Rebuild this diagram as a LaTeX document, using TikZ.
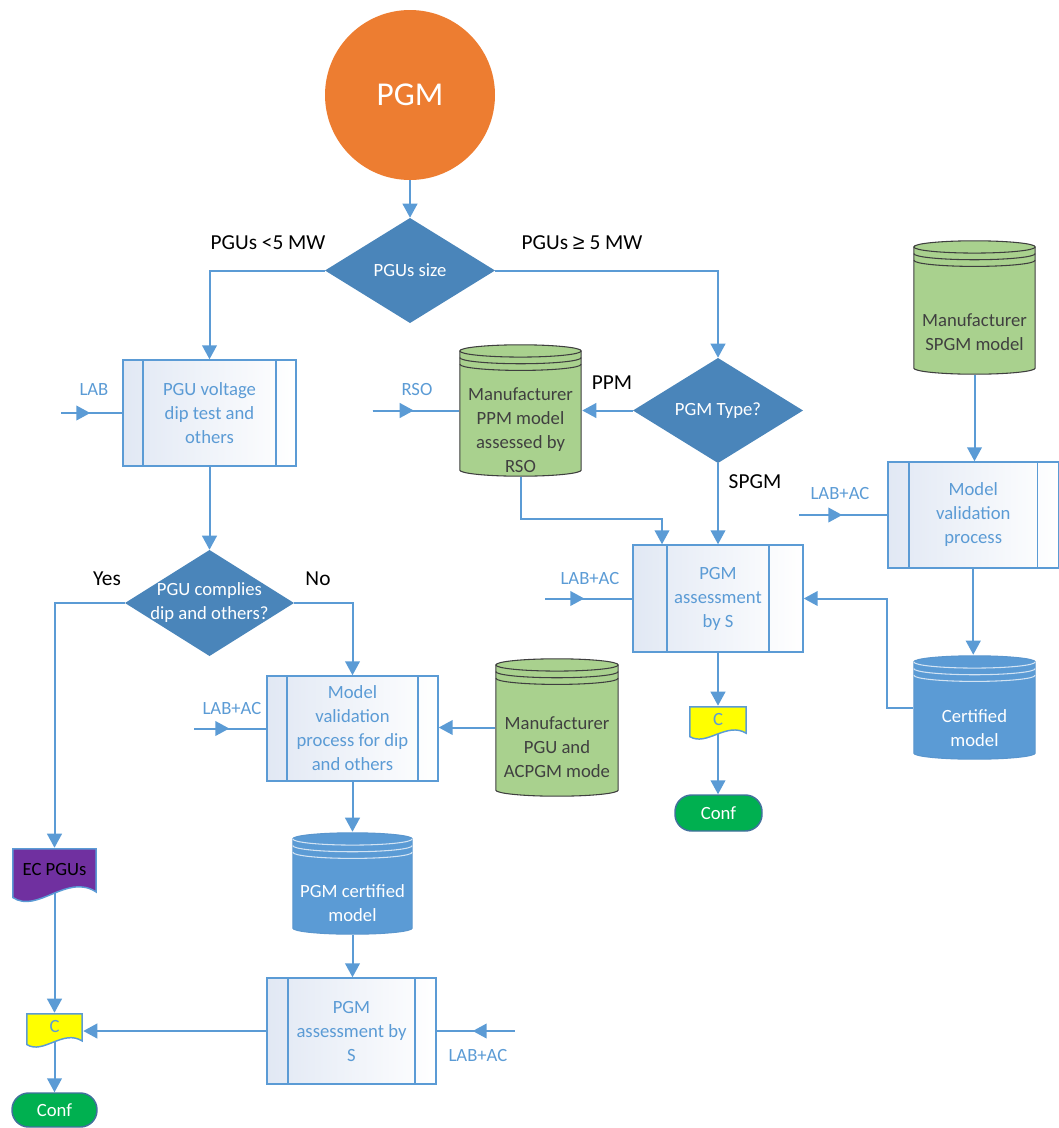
\documentclass[tikz,border=0pt]{standalone}
\usepackage{fontspec}
\setmainfont{Carlito}
\newfontfamily\symfont{Liberation Sans}
\usetikzlibrary{arrows.meta,calc,backgrounds}
\definecolor{lnblue}{HTML}{5B9BD5}
\definecolor{diablue}{HTML}{4A85BA}
\definecolor{pgmorange}{HTML}{ED7D31}
\definecolor{cylgreen}{HTML}{A9D18E}
\definecolor{cylline}{HTML}{3F3F3F}
\definecolor{cylblue}{HTML}{5B9BD5}
\definecolor{cylblueedge}{HTML}{5A96CE}
\definecolor{cylbluel}{HTML}{D2E3F3}
\definecolor{docpurple}{HTML}{7030A0}
\definecolor{docyellow}{HTML}{FFFF00}
\definecolor{confgreen}{HTML}{00B050}
\definecolor{confline}{HTML}{41719C}
\definecolor{boxshade}{HTML}{E1E8F4}
\definecolor{greytext}{HTML}{404040}

\newcommand\cylshape[3]{%
  \path[fill=#1,draw=#2,line width=0.8pt]
    let \p1=(path picture bounding box.south west),
        \p2=(path picture bounding box.north east),
        \n1={(\x2-\x1)/2-0.6pt} in
    (\x1+0.6pt,\y2-5.2pt) -- (\x1+0.6pt,\y1+5.2pt)
    arc[start angle=180,end angle=360,x radius=\n1,y radius=4.6pt]
    -- (\x2-0.6pt,\y2-5.2pt)
    arc[start angle=0,end angle=180,x radius=\n1,y radius=4.6pt] -- cycle;
  \path[draw=#3,line width=0.8pt]
    let \p1=(path picture bounding box.south west),
        \p2=(path picture bounding box.north east),
        \n1={(\x2-\x1)/2-0.6pt} in
    (\x1+0.6pt,\y2-5.2pt) arc[start angle=180,end angle=360,x radius=\n1,y radius=4.6pt]
    (\x1+0.6pt,\y2-10.2pt) arc[start angle=180,end angle=360,x radius=\n1,y radius=4.6pt]
    (\x1+0.6pt,\y2-15.2pt) arc[start angle=180,end angle=360,x radius=\n1,y radius=4.6pt];
}
\newcommand\docshape[2]{%
  \path[fill=#1,draw=#2,line width=1.1pt]
    let \p1=(path picture bounding box.south west),
        \p2=(path picture bounding box.north east),
        \n1={\x2-\x1}, \n2={\y2-\y1} in
    (\x1+0.6pt,\y2-0.6pt) -- (\x2-0.6pt,\y2-0.6pt) -- (\x2-0.6pt,\y1+0.2*\n2)
    .. controls (\x1+0.65*\n1,\y1+0.55*\n2) and (\x1+0.3*\n1,\y1-0.2*\n2) .. (\x1+0.6pt,\y1+0.1*\n2) -- cycle;
}

\tikzset{
  conn/.style={draw=lnblue, line width=1.5pt},
  arr/.style={-{Triangle[length=10.5pt,width=11pt]}},
  txt/.style={font=\fontsize{14pt}{18pt}\selectfont, align=center},
  bluelbl/.style={font=\fontsize{14pt}{17pt}\selectfont, text=lnblue, inner sep=0pt},
  blacklbl/.style={font=\fontsize{16pt}{19pt}\selectfont, text=black, inner sep=0pt},
  procbox/.style={rectangle, draw=lnblue, line width=1.1pt, left color=boxshade, right color=white,
    inner sep=0pt, txt, text=lnblue,
    path picture={\draw[lnblue, line width=1.1pt]
      ([xshift=#1]path picture bounding box.north west) -- ([xshift=#1]path picture bounding box.south west)
      ([xshift=-#1]path picture bounding box.north east) -- ([xshift=-#1]path picture bounding box.south east);}},
  dia/.style={rectangle, inner sep=0pt, txt, text=white,
    path picture={\fill[diablue] (path picture bounding box.north) -- (path picture bounding box.east)
      -- (path picture bounding box.south) -- (path picture bounding box.west) -- cycle;}},
  cyl/.style n args={3}{rectangle, inner sep=0pt, path picture={\cylshape{#1}{#2}{#3}}},
  cyltxt/.style={txt, inner sep=0pt},
  doc/.style n args={2}{rectangle, inner sep=0pt, font=\fontsize{14pt}{17pt}\selectfont,
    path picture={\docshape{#1}{#2}}},
  confbox/.style={rectangle, rounded corners=12.5pt, fill=confgreen, draw=confline, line width=1.1pt,
    text=white, inner sep=0pt, font=\fontsize{14pt}{17pt}\selectfont}
}

\begin{document}
\begin{tikzpicture}[x=0.75pt,y=-0.75pt]
\useasboundingbox (0,0) rectangle (1059,1128);

% ---- main nodes
\node[circle, fill=pgmorange, minimum size=127.5pt, inner sep=0pt, text=white,
      font=\fontsize{25pt}{30pt}\selectfont] (pgm) at (410,95) {PGM};
\node[dia, minimum width=127.5pt, minimum height=78.75pt] (size) at (410,270.5) {PGUs size};

\node[procbox=15pt, minimum width=129.75pt, minimum height=79.5pt] (box1) at (209.5,413) {PGU voltage\\dip test and\\others};
\node[dia, minimum width=126.75pt, minimum height=79.5pt] (dip) at (209.5,603) {PGU complies\\dip and others?};
\node[procbox=15pt, minimum width=128.25pt, minimum height=78.75pt] (box2) at (352.5,728.5) {Model\\validation\\process for dip\\and others};

\node[cyl={cylgreen}{cylline}{cylline}, minimum width=93pt, minimum height=104.25pt] (acpgm) at (557,727.5) {};
\node[cyltxt, text=greytext] (acpgmt) at ([yshift=-15pt]acpgm.center) {Manufacturer\\PGU and\\ACPGM mode};

\node[cyl={cylblue}{cylblueedge}{cylbluel}, minimum width=90.75pt, minimum height=77.25pt] (pgmcert) at (352.5,883.5) {};
\node[cyltxt, text=white] (pgmcertt) at ([yshift=-14.6pt]pgmcert.center) {PGM certified\\model};

\node[procbox=15.75pt, minimum width=126.75pt, minimum height=79.5pt] (box3) at (351.5,1031) {PGM\\assessment by\\S};

\node[doc={docpurple}{lnblue}, minimum width=63.75pt, minimum height=41.25pt, text=black,
      text height=9pt, text depth=9pt] (ecpgus) at (54.5,875.5) {EC PGUs};
\node[doc={docyellow}{lnblue}, minimum width=42.75pt, minimum height=26.25pt, text=lnblue,
      text height=9pt, text depth=6pt] (c1) at (54.5,1030.5) {C};
\node[confbox, minimum width=63.75pt, minimum height=25.5pt] (conf1) at (54.5,1110) {Conf};

\node[cyl={cylgreen}{cylline}{cylline}, minimum width=92.25pt, minimum height=99.75pt] (ppm) at (520.5,410.5) {};
\node[cyltxt, text=greytext] (ppmt) at ([yshift=-14.6pt]ppm.center) {Manufacturer\\PPM model\\assessed by\\RSO};

\node[dia, minimum width=127.5pt, minimum height=78.75pt] (type) at (718,410.5) {PGM Type?};
\node[procbox=25.5pt, minimum width=127.5pt, minimum height=80.25pt] (box4) at (718,598.5) {PGM\\assessment\\by S};
\node[doc={docyellow}{lnblue}, minimum width=43.5pt, minimum height=25.5pt, text=lnblue,
      text height=9pt, text depth=6pt] (c2) at (718,723) {C};
\node[confbox, minimum width=65.25pt, minimum height=27pt] (conf2) at (718.5,813) {Conf};

\node[cyl={cylgreen}{cylline}{cylline}, minimum width=92.25pt, minimum height=101.25pt] (spgm) at (974.5,307.5) {};
\node[cyltxt, text=greytext] (spgmt) at ([yshift=-18.4pt]spgm.center) {Manufacturer\\SPGM model};
\node[procbox=15.75pt, minimum width=127.9pt, minimum height=79.5pt] (box5) at (973.25,515) {Model\\validation\\process};
\node[cyl={cylblue}{cylblueedge}{cylbluel}, minimum width=92.25pt, minimum height=78.75pt] (cert) at (974.5,707.5) {};
\node[cyltxt, text=white] (certt) at ([yshift=-15.4pt]cert.center) {Certified\\model};

% ---- labels
\node[blacklbl] (lsmall) at (268,243) {PGUs <5 MW};
\node[blacklbl] (lbig) at (582,243) {PGUs {\symfont ≥} 5 MW};
\node[blacklbl] (lppm) at (612,383) {PPM};
\node[blacklbl] (lspgm) at (755,482) {SPGM};
\node[blacklbl] (lyes) at (107,579) {Yes};
\node[blacklbl] (lno) at (318,579) {No};

\node[bluelbl] (lLAB) at (94,390) {LAB};
\node[bluelbl] (lRSO) at (417,390) {RSO};
\node[bluelbl] (lAC2) at (232,708) {LAB+AC};
\node[bluelbl] (lAC4) at (590,578) {LAB+AC};
\node[bluelbl] (lAC5) at (840,494) {LAB+AC};
\node[bluelbl] (lAC3) at (478,1055) {LAB+AC};

% ---- free ends of input arrows
\coordinate (inLAB) at ($(box1.west)+(-61,0)$);
\coordinate (tipLAB) at ($(box1.west)+(-32,0)$);
\coordinate (inRSO) at ($(ppm.west)+(-86,0)$);
\coordinate (tipRSO) at ($(ppm.west)+(-45,0)$);
\coordinate (inAC2) at ($(box2.west)+(-72,0)$);
\coordinate (tipAC2) at ($(box2.west)+(-37,0)$);
\coordinate (inAC4) at ($(box4.west)+(-87,0)$);
\coordinate (tipAC4) at ($(box4.west)+(-48,0)$);
\coordinate (inAC5) at ($(box5.west)+(-88,0)$);
\coordinate (tipAC5) at ($(box5.west)+(-45,0)$);
\coordinate (inAC3) at ($(box3.east)+(78,0)$);
\coordinate (tipAC3) at ($(box3.east)+(36,0)$);
\coordinate (ppmbend) at (662,519);

% ---- connectors
\begin{scope}[on background layer]
\draw[conn,arr] (pgm.south) -- (pgm.south |- size.north);
\draw[conn,arr] (size.west) -| (box1.north);
\draw[conn,arr] (size.east) -| (type.north);
\draw[conn,arr] (box1.south) -- (box1.south |- dip.north);
\draw[conn,arr] (dip.west) -| (ecpgus.north);
\draw[conn,arr] (dip.east) -| (box2.north);
\draw[conn,arr] (acpgm.west) -- (acpgm.west -| box2.east);
\draw[conn,arr] (box2.south) -- (box2.south |- pgmcert.north);
\draw[conn,arr] (pgmcert.south) -- (pgmcert.south |- box3.north);
\draw[conn,arr] (box3.west) -- (box3.west -| c1.east);
\draw[conn,arr] (ecpgus.center) -- (ecpgus.center |- c1.north);
\draw[conn,arr] (c1.center) -- (c1.center |- conf1.north);
\draw[conn,arr] (type.west) -- (type.west -| ppm.east);
\draw[conn,arr] (ppm.south) |- (ppmbend) -- (ppmbend |- box4.north);
\draw[conn,arr] (type.south) -- (type.south |- box4.north);
\draw[conn,arr] (box4.south) -- (box4.south |- c2.north);
\draw[conn,arr] (c2.center) -- (c2.center |- conf2.north);
\draw[conn,arr] (spgm.south) -- (spgm.south |- box5.north);
\draw[conn,arr] (box5.south) -- (box5.south |- cert.north);
\draw[conn,arr] (cert.west) -- ++(-26,0) |- (box4.east);
% inputs
\draw[conn] (inLAB) -- (box1.west);   \draw[conn,arr] (inLAB) -- (tipLAB);
\draw[conn] (inRSO) -- (ppm.west);    \draw[conn,arr] (inRSO) -- (tipRSO);
\draw[conn] (inAC2) -- (box2.west);   \draw[conn,arr] (inAC2) -- (tipAC2);
\draw[conn] (inAC4) -- (box4.west);   \draw[conn,arr] (inAC4) -- (tipAC4);
\draw[conn] (inAC5) -- (box5.west);   \draw[conn,arr] (inAC5) -- (tipAC5);
\draw[conn] (inAC3) -- (box3.east);   \draw[conn,arr] (inAC3) -- (tipAC3);
\end{scope}
\end{tikzpicture}
\end{document}
